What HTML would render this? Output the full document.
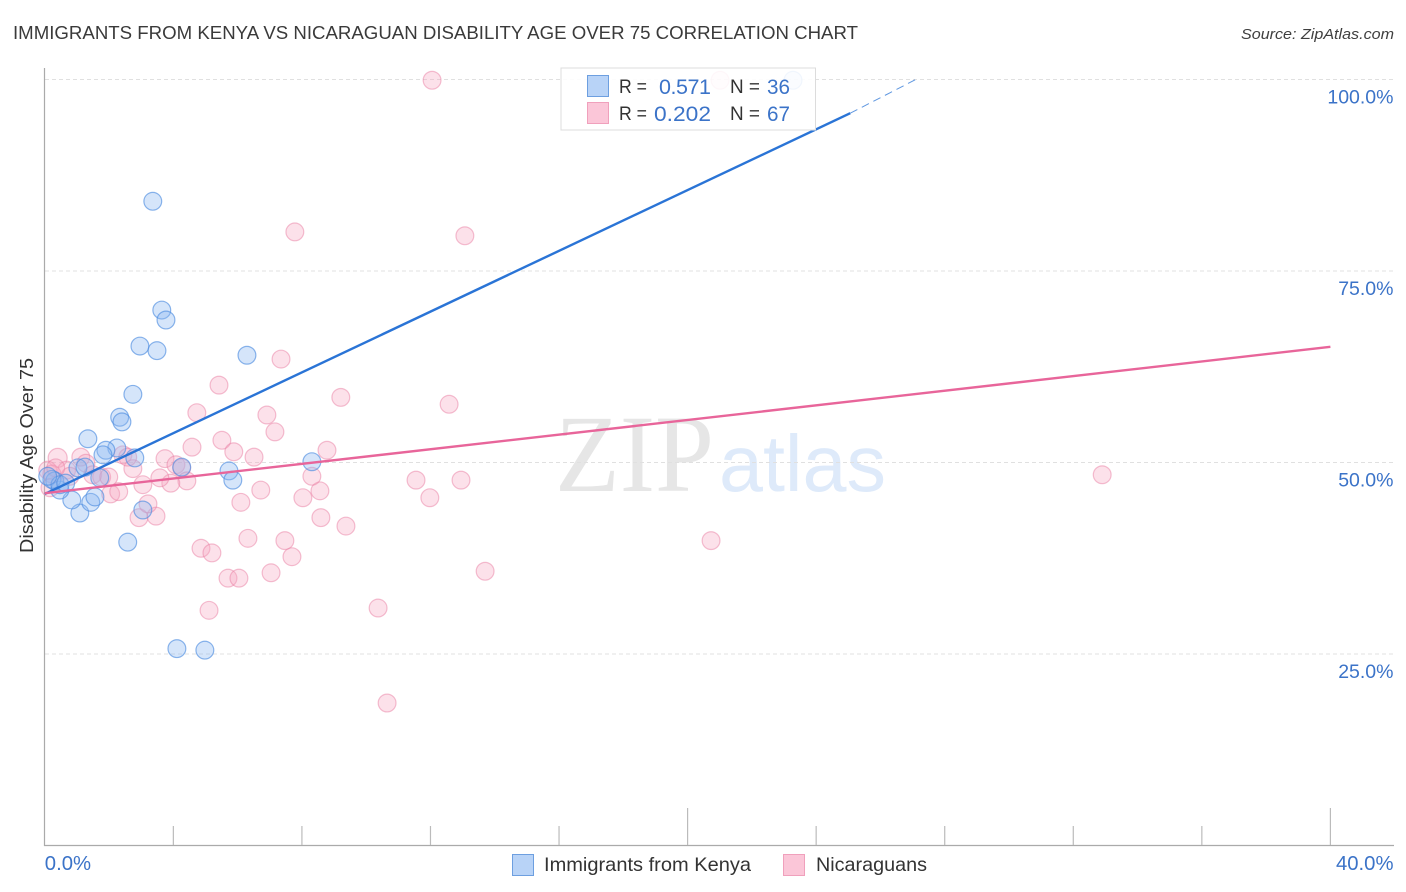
<!DOCTYPE html>
<html lang="en">
<head>
<meta charset="utf-8">
<title>Immigrants from Kenya vs Nicaraguan Disability Age Over 75 Correlation Chart</title>
<style>
html,body{margin:0;padding:0;background:#fff;}
svg{display:block;font-family:"Liberation Sans",sans-serif;}
</style>
</head>
<body>
<svg id="chart" xmlns="http://www.w3.org/2000/svg" width="1406" height="892" viewBox="0 0 1406 892">
  <text x="13" y="39" font-size="18.5" fill="#3a3a3a" textLength="845" lengthAdjust="spacingAndGlyphs">IMMIGRANTS FROM KENYA VS NICARAGUAN DISABILITY AGE OVER 75 CORRELATION CHART</text>
  <text x="1241" y="39" font-size="15" font-style="italic" fill="#3f3f3f" textLength="153" lengthAdjust="spacingAndGlyphs">Source: ZipAtlas.com</text>

  <g>
    <text x="555" y="491" font-family="'Liberation Serif',serif" font-size="110" fill="#e6e6e6" textLength="159" lengthAdjust="spacingAndGlyphs">ZIP</text>
    <text x="719" y="491" font-size="80" fill="#deeafa" textLength="167" lengthAdjust="spacingAndGlyphs">atlas</text>
  </g>

  <g id="grid"></g>
  <g id="axes"></g>
  <g id="pink-points"></g>
  <g id="blue-points"></g>
  <g id="trends"></g>

  <g>
    <rect x="561" y="68" width="254.5" height="62" fill="#fff" fill-opacity="0.88" stroke="#dcdcdc" stroke-width="1"/>
    <rect x="587.5" y="75.5" width="21" height="21" fill="#b8d3f7" stroke="#6d9fe0"/>
    <rect x="587.5" y="102.5" width="21" height="21" fill="#fbc6d8" stroke="#f0a0bc"/>
    <text x="619" y="93" font-size="19" fill="#333" textLength="28" lengthAdjust="spacingAndGlyphs">R =</text>
    <text x="659" y="94" font-size="21.5" fill="#3b73c8" textLength="52" lengthAdjust="spacing">0.571</text>
    <text x="730" y="93" font-size="19" fill="#333" textLength="30" lengthAdjust="spacingAndGlyphs">N =</text>
    <text x="767" y="94" font-size="21.5" fill="#3b73c8" textLength="23" lengthAdjust="spacingAndGlyphs">36</text>
    <text x="619" y="120" font-size="19" fill="#333" textLength="28" lengthAdjust="spacingAndGlyphs">R =</text>
    <text x="654" y="121" font-size="21.5" fill="#3b73c8" textLength="57" lengthAdjust="spacingAndGlyphs">0.202</text>
    <text x="730" y="120" font-size="19" fill="#333" textLength="30" lengthAdjust="spacingAndGlyphs">N =</text>
    <text x="767" y="121" font-size="21.5" fill="#3b73c8" textLength="23" lengthAdjust="spacingAndGlyphs">67</text>
  </g>

  <text transform="translate(33,553) rotate(-90)" font-size="18.5" fill="#333" textLength="195" lengthAdjust="spacingAndGlyphs">Disability Age Over 75</text>

  <g>
    <g>
      <rect x="512.5" y="854.5" width="21" height="21" fill="#b8d3f7" stroke="#6d9fe0"/>
      <text x="544" y="871" font-size="19.5" fill="#333" textLength="207" lengthAdjust="spacingAndGlyphs">Immigrants from Kenya</text>
    </g>
    <g>
      <rect x="783.5" y="854.5" width="21" height="21" fill="#fbc6d8" stroke="#f0a0bc"/>
      <text x="816" y="871" font-size="19.5" fill="#333" textLength="111" lengthAdjust="spacingAndGlyphs">Nicaraguans</text>
    </g>
  </g>
</svg>
<script>
// Kenya series (percent)
var kenyaX = [3.36,3.64,3.77,2.96,3.49,6.29,2.74,2.33,2.40,1.34,2.24,1.90,1.81,2.80,5.73,5.85,8.31,4.26,3.05,2.58,4.11,4.98,23.28,1.09,0.84,1.43,1.56,1.03,1.25,1.71,0.47,0.31,0.22,0.47,0.09,0.65];
var kenyaY = [84.1,69.9,68.6,65.2,64.6,64.0,58.9,55.9,55.3,53.1,51.9,51.6,51.0,50.6,48.9,47.7,50.1,49.4,43.8,39.6,25.7,25.5,99.9,43.4,45.1,44.8,45.5,49.3,49.4,48.0,46.4,47.6,47.8,47.1,48.2,47.3];
// Nicaraguan series (percent)
var nicaX = [12.05,21.01,7.78,13.07,7.35,5.42,9.21,12.58,4.73,6.91,7.16,5.51,4.58,5.88,8.78,6.51,0.40,3.74,4.08,4.26,2.74,4.42,3.92,3.58,3.05,2.43,2.58,1.12,1.28,0.68,0.78,1.49,1.77,1.99,2.05,2.30,6.72,6.10,8.56,8.03,8.31,11.55,12.95,11.98,8.59,9.37,2.93,3.46,3.21,6.32,7.47,4.86,5.20,7.69,7.04,5.70,6.04,13.70,10.37,5.11,10.65,20.73,32.90,0.09,0.22,0.34,0.16];
var nicaY = [99.9,99.9,80.1,79.6,63.5,60.1,58.5,57.6,56.5,56.2,54.0,52.9,52.0,51.4,51.6,50.7,50.6,50.5,49.7,49.3,49.2,47.6,47.3,48.0,47.1,51.0,50.7,50.7,49.9,49.0,48.2,48.4,48.1,48.1,45.9,46.2,46.4,44.8,46.3,45.4,48.2,47.7,47.7,45.4,42.8,41.7,42.8,43.0,44.6,40.1,39.8,38.8,38.2,37.7,35.6,34.9,34.9,35.8,31.0,30.7,18.6,39.8,48.4,49.0,48.5,49.3,46.7];
// Trend lines: [x start, x end], [y start, y end]
var kenyaTrendX = [0, 25.06];
var kenyaTrendY = [45.9, 95.6];
var kenyaDashX = [25.06, 27.1];
var kenyaDashY = [95.6, 100];
var nicaTrendX = [0, 40];
var nicaTrendY = [46.0, 65.1];
// Axis ticks and labels
var yGridValues = [100, 75, 50, 25];
var yTickLabels = ["100.0%", "75.0%", "50.0%", "25.0%"];
var xTickValues = [4, 8, 12, 16, 20, 24, 28, 32, 36, 40];
var xMajorTicks = [20, 40];
var xTickLabels = ["0.0%", "40.0%"];
var xTickLabelValues = [0, 40];

var NS = "http://www.w3.org/2000/svg";
function xPos(v) { return 44.8 + v * 32.14; }
function yPos(v) { return 845.5 - v * 7.66; }
function make(tag, parent) {
  var el = document.createElementNS(NS, tag);
  document.getElementById(parent).appendChild(el);
  return el;
}

yGridValues.forEach(function (v, i) {
  var g = make("line", "grid");
  
  
  g.setAttribute("x1", 45);
  g.setAttribute("x2", 1394);
  g.setAttribute("y1", yPos(v));
  g.setAttribute("y2", yPos(v));
  g.setAttribute("stroke", "#e0e0e0");
  g.setAttribute("stroke-width", "1");
  g.setAttribute("stroke-dasharray", "4 3");

  var t = make("text", "axes");
  
  
  t.setAttribute("x", 1393.5);
  t.setAttribute("y", yPos(v) + 24);
  t.setAttribute("text-anchor", "end");
  t.setAttribute("font-size", "19.5");
  t.setAttribute("fill", "#3b73c8");
  t.textContent = yTickLabels[i];
});

var yAxis = make("line", "axes");


yAxis.setAttribute("x1", 44.5);
yAxis.setAttribute("x2", 44.5);
yAxis.setAttribute("y1", 68);
yAxis.setAttribute("y2", 846);
yAxis.setAttribute("stroke", "#aaaaaa");
yAxis.setAttribute("stroke-width", "1.2");

var xAxis = make("line", "axes");


xAxis.setAttribute("x1", 44);
xAxis.setAttribute("x2", 1394);
xAxis.setAttribute("y1", 845.5);
xAxis.setAttribute("y2", 845.5);
xAxis.setAttribute("stroke", "#aaaaaa");
xAxis.setAttribute("stroke-width", "1.2");

xTickValues.forEach(function (v) {
  var k = make("line", "axes");
  
  
  k.setAttribute("x1", xPos(v));
  k.setAttribute("x2", xPos(v));
  k.setAttribute("y1", xMajorTicks.indexOf(v) >= 0 ? 808 : 826);
  k.setAttribute("y2", 845);
  k.setAttribute("stroke", "#bbbbbb");
  k.setAttribute("stroke-width", "1.2");
});

xTickLabels.forEach(function (s, i) {
  var t = make("text", "axes");
  
  
  var v = xTickLabelValues[i];
  t.setAttribute("x", v === 0 ? xPos(v) : 1393.5);
  t.setAttribute("y", 870);
  t.setAttribute("text-anchor", v === 0 ? "start" : "end");
  t.setAttribute("font-size", "20.3");
  t.setAttribute("fill", "#3b73c8");
  t.textContent = s;
});

nicaX.forEach(function (v, i) {
  var c = make("circle", "pink-points");
  
  
  c.setAttribute("cx", xPos(v));
  c.setAttribute("cy", yPos(nicaY[i]));
  c.setAttribute("r", v === 0.40 ? 9.5 : 8.9);
  c.setAttribute("fill", "#f7a8c2");
  c.setAttribute("fill-opacity", "0.34");
  c.setAttribute("stroke", "#ea7fa4");
  c.setAttribute("stroke-opacity", "0.5");
  c.setAttribute("stroke-width", "1.2");
});

kenyaX.forEach(function (v, i) {
  var c = make("circle", "blue-points");
  
  
  c.setAttribute("cx", xPos(v));
  c.setAttribute("cy", yPos(kenyaY[i]));
  c.setAttribute("r", 8.9);
  c.setAttribute("fill", "#8ab8f0");
  c.setAttribute("fill-opacity", "0.36");
  c.setAttribute("stroke", "#4f8ee0");
  c.setAttribute("stroke-opacity", "0.65");
  c.setAttribute("stroke-width", "1.2");
});

var blueTrend = make("line", "trends");


blueTrend.setAttribute("x1", xPos(kenyaTrendX[0]));
blueTrend.setAttribute("x2", xPos(kenyaTrendX[1]));
blueTrend.setAttribute("y1", yPos(kenyaTrendY[0]));
blueTrend.setAttribute("y2", yPos(kenyaTrendY[1]));
blueTrend.setAttribute("stroke", "#2a74d6");
blueTrend.setAttribute("stroke-width", "2.4");

var blueDash = make("line", "trends");


blueDash.setAttribute("x1", xPos(kenyaDashX[0]));
blueDash.setAttribute("x2", xPos(kenyaDashX[1]));
blueDash.setAttribute("y1", yPos(kenyaDashY[0]));
blueDash.setAttribute("y2", yPos(kenyaDashY[1]));
blueDash.setAttribute("stroke", "#2a74d6");
blueDash.setAttribute("stroke-opacity", "0.75");
blueDash.setAttribute("stroke-width", "1");
blueDash.setAttribute("stroke-dasharray", "8 5");

var pinkTrend = make("line", "trends");


pinkTrend.setAttribute("x1", xPos(nicaTrendX[0]));
pinkTrend.setAttribute("x2", xPos(nicaTrendX[1]));
pinkTrend.setAttribute("y1", yPos(nicaTrendY[0]));
pinkTrend.setAttribute("y2", yPos(nicaTrendY[1]));
pinkTrend.setAttribute("stroke", "#e8659a");
pinkTrend.setAttribute("stroke-width", "2.4");
</script>
</body>
</html>
